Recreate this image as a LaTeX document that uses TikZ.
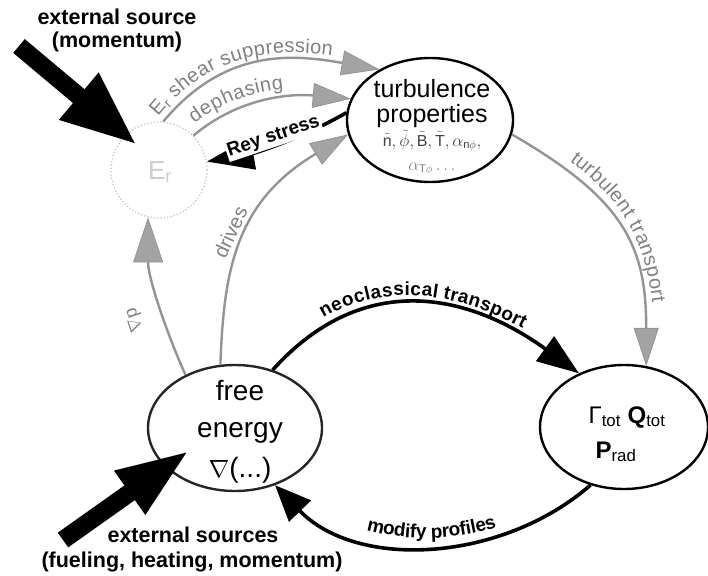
\documentclass[tikz,border=0pt]{standalone}
\usepackage{fontspec}
\setmainfont{Liberation Sans}
\usetikzlibrary{arrows.meta,shapes.geometric,decorations.text}
\definecolor{lngrey}{gray}{0.58}
\definecolor{lbgrey}{gray}{0.50}
\definecolor{hdgrey}{gray}{0.64}
\newcommand\greylbl{\fontsize{20}{22}\selectfont\color{lbgrey}}
\newcommand\boldlbl{\fontsize{19}{21}\selectfont\bfseries}
\newcommand\tld[1]{\tilde{\mbox{#1}}}
\begin{document}
\begin{tikzpicture}[x=1pt,y=1pt,
  ell/.style={draw=black, ellipse, line width=2.4pt, inner sep=0pt},
  glink/.style={draw=lngrey, line width=2.4pt, -{Triangle[length=38pt,width=25pt,line width=0.8pt,fill=hdgrey]}},
  blink/.style={draw=black, line width=3.6pt, -{Triangle[length=42pt,width=30pt]}},
  bigarrow/.style={draw=black, line width=18pt, -{Triangle[length=76pt,width=56pt]}},
  txt/.style={anchor=base, inner sep=0pt},
  gtext/.style={text=lbgrey, font=\fontsize{20}{22}\selectfont},
  srcfont/.style={font=\fontsize{21.5}{24}\selectfont\bfseries}
]
\useasboundingbox (0,0) rectangle (708,-575);

% nodes
\node[circle, draw=gray!45, dotted, line width=1.3pt, minimum size=96pt, inner sep=0pt] (Er) at (159,-170) {};
\node[text=gray!40, font=\fontsize{26}{26}\selectfont] (Ertext) at (160,-172) {E\textsubscript{r}};
\node[ell, minimum width=166pt, minimum height=124pt] (turb) at (430,-120) {};
\node[ell, draw=black!85, minimum width=174pt, minimum height=126pt] (fe) at (235,-428) {};
\node[ell, minimum width=168pt, minimum height=124pt] (flux) at (624,-427) {};

% texts inside
\node[txt, font=\fontsize{25}{25}\selectfont] (tt1) at (432,-97) {turbulence};
\node[txt, font=\fontsize{25}{25}\selectfont] (tt2) at (432,-122) {properties};
\node[txt, font=\fontsize{16}{16}\selectfont, text=black!75] (tt3) at (432,-146) {$\tld{n},\tilde\phi,\tld{B},\tld{T},\alpha_{\mathrm{n}\phi},$};
\node[txt, font=\fontsize{16}{16}\selectfont, text=black!50] (tt4) at (432,-170) {$\alpha_{\mathrm{T}\phi}\ldots$};

\node[txt, font=\fontsize{28}{28}\selectfont] (fe1) at (240,-400) {free};
\node[txt, font=\fontsize{28}{28}\selectfont] (fe2) at (240,-437) {energy};
\node[txt, font=\fontsize{28}{28}\selectfont] (fe3) at (240,-477) {$\nabla$(...)};

\node[txt, font=\fontsize{24}{24}\selectfont] (fl1) at (627,-423) {Γ\textsubscript{tot}\ \textbf{Q}\textsubscript{tot}};
\node[txt, font=\fontsize{24}{24}\selectfont] (fl2) at (616,-458) {\textbf{P}\textsubscript{rad}};

% external sources
\node[txt, srcfont] (srcA1) at (117,-25) {external source};
\node[txt, srcfont] (srcA2) at (117,-48) {(momentum)};
\node[txt, srcfont] (srcB1) at (193,-542) {external sources};
\node[txt, srcfont] (srcB2) at (192,-567) {(fueling, heating, momentum)};

\coordinate (srcA) at (19,-46);
\coordinate (tipA) at (137,-145);
\draw[bigarrow] (srcA) -- (tipA);
\coordinate (srcB) at (63,-540);
\coordinate (tipB) at (190,-450);
\draw[bigarrow, -{Triangle[length=74pt,width=48pt]}] (srcB) -- (tipB);

% grey connectors
\draw[glink, postaction={decorate, decoration={text along path, text={|\greylbl|E{\textsubscript{r}} shear suppression}, raise=7pt}}]
  (Er.85) to[out=50,in=170,out distance=95pt,in distance=90pt] (turb.135);
\draw[glink, postaction={decorate, decoration={text along path, text={|\greylbl|dephasing}, text align={left indent=8pt}, raise=9pt}}]
  (Er.45) to[out=40,in=175,out distance=60pt,in distance=60pt] (turb.165);
\draw[glink] (fe.103) to[out=88,in=211,out distance=97pt,in distance=130pt]
  node[pos=0.5, sloped, above=3pt, gtext] (drv) {drives} (turb.190);
\draw[glink, -{Triangle[length=45pt,width=30pt,line width=0.8pt,fill=hdgrey]}]
  (fe.133) to[out=114,in=270,out distance=50pt,in distance=60pt] (Er.257);
\node[gtext, rotate=108, font=\fontsize{18}{18}\selectfont] (gradp) at (135,-320) {$\nabla$p};
\draw[glink, postaction={decorate, decoration={text along path, text={|\greylbl|turbulent transport}, text align=center, raise=9pt}}]
  (turb.-10) to[out=-30,in=90,out distance=130pt,in distance=120pt] (flux.70);

% black connectors
\draw[blink, -{Triangle[length=47pt,width=32pt]}]
  (turb.175) to[out=210,in=10,out distance=50pt,in distance=50pt]
  node[pos=0.52, sloped, above=-4pt, fill=white, inner sep=1.5pt, font=\boldlbl] (rey) {Rey stress} (Er.10);
\draw[blink, postaction={decorate, decoration={text along path, text={|\boldlbl|neoclassical transport}, text align=center, raise=8pt}}]
  (fe.57) to[out=48,in=144,out distance=140pt,in distance=130pt] (flux.130);
\draw[blink, {Triangle[length=36pt,width=30pt]}-, postaction={decorate, decoration={text along path, text={|\boldlbl|modify profiles}, text align=center, raise=8pt}}]
  (fe.-55) to[out=-46,in=221,out distance=118pt,in distance=118pt] (flux.240);
\end{tikzpicture}
\end{document}
